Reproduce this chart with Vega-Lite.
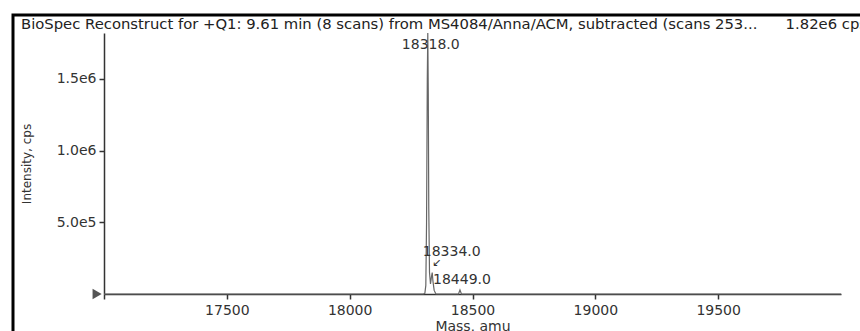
{
  "$schema": "https://vega.github.io/schema/vega-lite/v6.json",
  "width": 860,
  "height": 330,
  "autosize": {"type": "none"},
  "padding": {"left": 13, "top": 15, "right": 0, "bottom": 0},
  "background": "white",
  "config": {
    "view": {"stroke": "black", "strokeWidth": 3},
    "font": "DejaVu Sans"
  },
  "title": {
    "text": "BioSpec Reconstruct for +Q1: 9.61 min (8 scans) from MS4084/Anna/ACM, subtracted (scans 253... \u00a0\u00a0\u00a0\u00a0\u00a01.82e6 cps",
    "anchor": "start",
    "frame": "group",
    "orient": "top",
    "offset": 0,
    "baseline": "top",
    "dx": 8,
    "dy": 17,
    "fontSize": 14.8,
    "fontWeight": "normal",
    "font": "DejaVu Sans",
    "color": "#222"
  },
  "datasets": {
    "spectrum": [
      {"mass": 17000, "intensity": 0},
      {"mass": 18300, "intensity": 0},
      {"mass": 18306, "intensity": 5000},
      {"mass": 18310, "intensity": 60000},
      {"mass": 18313, "intensity": 500000},
      {"mass": 18316, "intensity": 1500000},
      {"mass": 18318, "intensity": 1820000},
      {"mass": 18320, "intensity": 1400000},
      {"mass": 18322, "intensity": 600000},
      {"mass": 18325, "intensity": 150000},
      {"mass": 18329, "intensity": 70000},
      {"mass": 18333, "intensity": 120000},
      {"mass": 18336, "intensity": 150000},
      {"mass": 18339, "intensity": 90000},
      {"mass": 18344, "intensity": 25000},
      {"mass": 18351, "intensity": 0},
      {"mass": 18443, "intensity": 0},
      {"mass": 18449, "intensity": 28000},
      {"mass": 18455, "intensity": 0},
      {"mass": 20000, "intensity": 0}
    ],
    "peaks": [
      {"mass": 18318, "intensity": 1820000, "label": "18318.0"},
      {"mass": 18334, "intensity": 150000, "label": "18334.0"},
      {"mass": 18449, "intensity": 28000, "label": "18449.0"}
    ],
    "marker": [
      {"mass": 16972, "intensity": 0}
    ]
  },
  "layer": [
    {
      "data": {"name": "spectrum"},
      "mark": {"type": "line", "color": "#666", "strokeWidth": 1.2, "interpolate": "linear"},
      "encoding": {
        "x": {
          "field": "mass",
          "type": "quantitative",
          "scale": {"domain": [17000, 20000], "range": [91, 828], "nice": false, "zero": false},
          "axis": {
            "orient": "bottom",
            "offset": -51,
            "title": "Mass, amu",
            "values": [17000, 17500, 18000, 18500, 19000, 19500],
            "format": "d",
            "labelExpr": "datum.value == 17000 ? '' : datum.label",
            "grid": false,
            "domainColor": "#333",
            "domainWidth": 1.5,
            "tickColor": "#333",
            "tickWidth": 1.5,
            "tickSize": 5,
            "labelPadding": 4,
            "labelFont": "DejaVu Sans",
            "labelFontSize": 14,
            "labelColor": "#333",
            "titleFont": "DejaVu Sans",
            "titleFontSize": 14,
            "titleFontWeight": "normal",
            "titleColor": "#333",
            "titlePadding": 2
          }
        },
        "y": {
          "field": "intensity",
          "type": "quantitative",
          "scale": {"domain": [0, 1820000], "range": [279, 18], "nice": false, "zero": true},
          "axis": {
            "orient": "left",
            "offset": -91,
            "title": "Intensity, cps",
            "values": [500000, 1000000, 1500000],
            "labelExpr": "datum.value == 500000 ? '5.0e5' : datum.value == 1000000 ? '1.0e6' : '1.5e6'",
            "grid": false,
            "domainColor": "#333",
            "domainWidth": 1.5,
            "tickColor": "#333",
            "tickWidth": 1.5,
            "tickSize": 5,
            "labelPadding": 3,
            "labelFont": "DejaVu Sans",
            "labelFontSize": 14,
            "labelColor": "#333",
            "titleFont": "DejaVu Sans",
            "titleFontSize": 12,
            "titleFontWeight": "normal",
            "titleColor": "#333",
            "titlePadding": 23
          }
        }
      }
    },
    {
      "data": {"name": "marker"},
      "mark": {"type": "point", "shape": "triangle-right", "filled": true, "color": "#555", "size": 110, "opacity": 1},
      "encoding": {
        "x": {"field": "mass", "type": "quantitative"},
        "y": {"field": "intensity", "type": "quantitative"}
      }
    },
    {
      "data": {"name": "peaks"},
      "transform": [{"filter": "datum.label == '18318.0'"}],
      "mark": {"type": "text", "font": "DejaVu Sans", "fontSize": 14, "color": "#333", "baseline": "middle", "align": "center", "dx": 3, "dy": 12},
      "encoding": {
        "x": {"field": "mass", "type": "quantitative"},
        "y": {"field": "intensity", "type": "quantitative"},
        "text": {"field": "label"}
      }
    },
    {
      "data": {"name": "peaks"},
      "transform": [{"filter": "datum.label == '18334.0'"}],
      "mark": {"type": "text", "font": "DejaVu Sans", "fontSize": 14, "color": "#333", "baseline": "middle", "align": "center", "dx": 20, "dy": -20},
      "encoding": {
        "x": {"field": "mass", "type": "quantitative"},
        "y": {"field": "intensity", "type": "quantitative"},
        "text": {"field": "label"}
      }
    },
    {
      "data": {"name": "peaks"},
      "transform": [{"filter": "datum.label == '18334.0'"}],
      "mark": {"type": "text", "font": "DejaVu Sans", "fontSize": 11, "color": "#333", "baseline": "middle", "align": "center", "dx": 5, "dy": -9},
      "encoding": {
        "x": {"field": "mass", "type": "quantitative"},
        "y": {"field": "intensity", "type": "quantitative"},
        "text": {"value": "↙"}
      }
    },
    {
      "data": {"name": "peaks"},
      "transform": [{"filter": "datum.label == '18449.0'"}],
      "mark": {"type": "text", "font": "DejaVu Sans", "fontSize": 14, "color": "#333", "baseline": "middle", "align": "center", "dx": 2, "dy": -10},
      "encoding": {
        "x": {"field": "mass", "type": "quantitative"},
        "y": {"field": "intensity", "type": "quantitative"},
        "text": {"field": "label"}
      }
    }
  ]
}
